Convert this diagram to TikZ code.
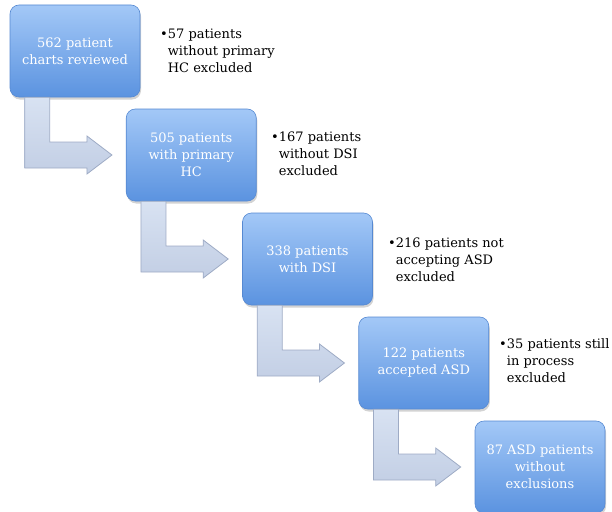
\documentclass[tikz,border=0pt]{standalone}
\usepackage{fontspec}
\setmainfont{DejaVu Serif}
\usetikzlibrary{calc,shadows}
\definecolor{boxtop}{HTML}{A3C8F7}
\definecolor{boxbot}{HTML}{5B93E0}
\definecolor{boxline}{HTML}{5689D2}
\definecolor{arrtop}{HTML}{D8E2F2}
\definecolor{arrbot}{HTML}{C2CEE4}
\definecolor{arrline}{HTML}{9EABC5}
\begin{document}
\begin{tikzpicture}[x=1pt,y=1pt,
  stage/.style={rectangle, rounded corners=9pt, minimum width=130pt, minimum height=92pt,
    top color=boxtop, bottom color=boxbot, draw=boxline, line width=0.6pt,
    drop shadow={opacity=0.35, shadow xshift=1pt, shadow yshift=-2.5pt},
    text=white, align=center, font=\fontsize{13}{17}\selectfont},
  excl/.style={anchor=west, inner sep=0pt, font=\fontsize{13}{17}\selectfont},
  bentarrow/.style={top color=arrtop, bottom color=arrbot, draw=arrline, line width=0.8pt, line join=miter}]
\useasboundingbox (0,0) rectangle (612,-511);

\node[stage] (b1) at (75,-51) {562 patient\\charts reviewed};
\node[stage] (b2) at (191.25,-155) {505 patients\\with primary\\HC};
\node[stage] (b3) at (307.5,-259) {338 patients\\with DSI};
\node[stage] (b4) at (423.75,-363) {122 patients\\accepted ASD};
\node[stage] (b5) at (540,-467) {87 ASD patients\\without\\exclusions};

\node[excl] (e1) at (160,-52) {\begin{tabular}{@{}l@{}l@{}}\textbullet&57 patients\\&without primary\\&HC excluded\end{tabular}};
\node[excl] (e2) at (271,-155) {\begin{tabular}{@{}l@{}l@{}}\textbullet&167 patients\\&without DSI\\&excluded\end{tabular}};
\node[excl] (e3) at (388,-261) {\begin{tabular}{@{}l@{}l@{}}\textbullet&216 patients not\\&accepting ASD\\&excluded\end{tabular}};
\node[excl] (e4) at (499,-362) {\begin{tabular}{@{}l@{}l@{}}\textbullet&35 patients still\\&in process\\&excluded\end{tabular}};

\foreach \a/\b in {b1/b2, b2/b3, b3/b4, b4/b5}
  \path[bentarrow] let \p1=(\a.south west), \p2=(\b.west) in
    (\x1+15pt,\y1) -- (\x1+40pt,\y1) -- (\x1+40pt,\y2+13pt) -- (\x2-39pt,\y2+13pt)
    -- (\x2-39pt,\y2+19pt) -- (\x2-14pt,\y2) -- (\x2-39pt,\y2-19pt)
    -- (\x2-39pt,\y2-13pt) -- (\x1+15pt,\y2-13pt) -- cycle;
\end{tikzpicture}
\end{document}
